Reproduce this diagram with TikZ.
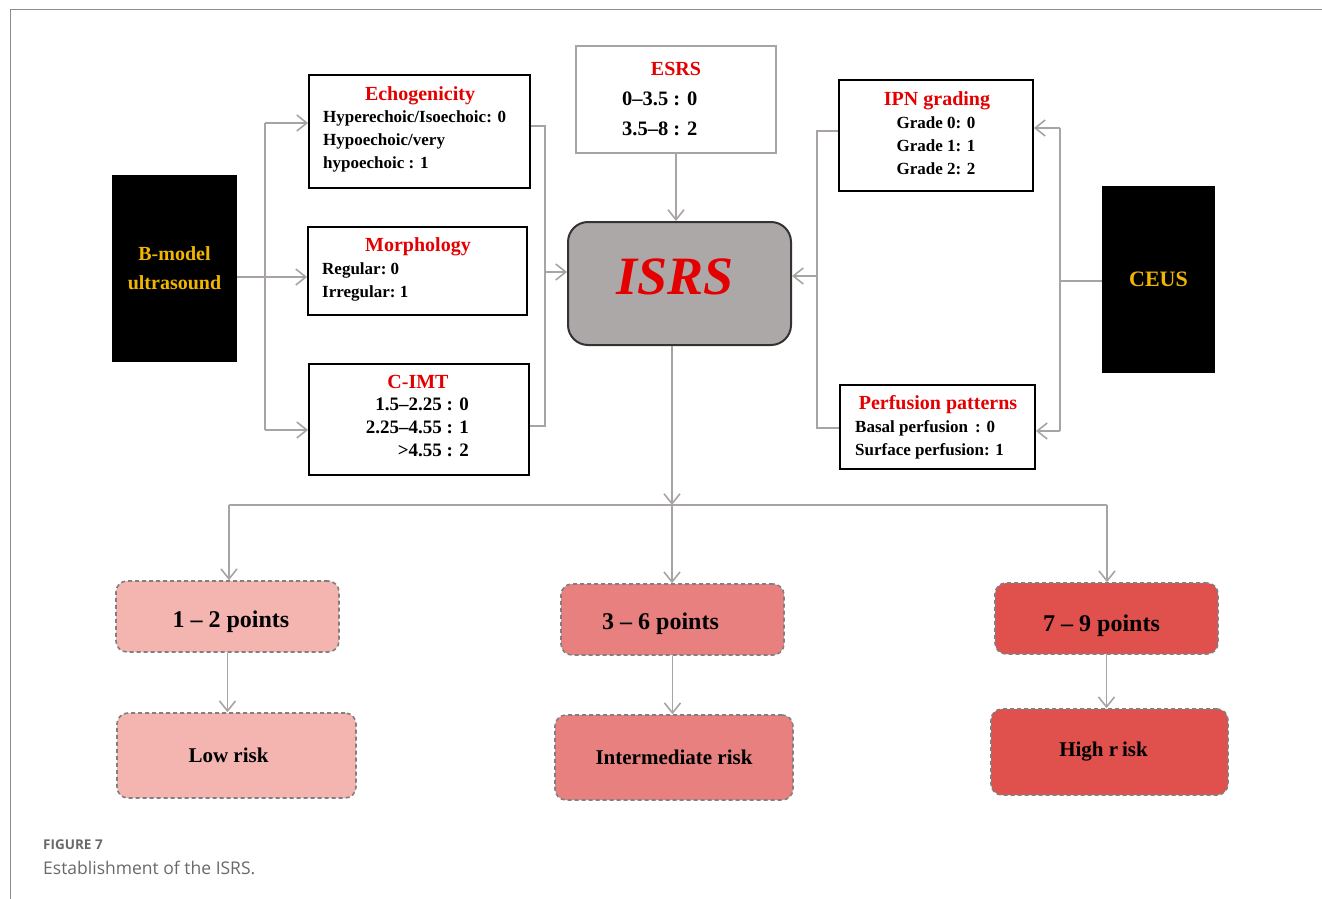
\documentclass[tikz,border=0pt]{standalone}
\usepackage{fontspec}
\setmainfont{Liberation Serif}
\newfontfamily\capfont{Open Sans}
\usetikzlibrary{arrows.meta,positioning}

\definecolor{titlered}{RGB}{228,0,0}
\definecolor{gold}{RGB}{240,182,0}
\definecolor{linkgray}{RGB}{168,164,164}
\definecolor{isrsgray}{RGB}{173,168,168}
\definecolor{lowpink}{RGB}{244,180,176}
\definecolor{midpink}{RGB}{232,128,128}
\definecolor{highred}{RGB}{224,80,76}
\definecolor{framegray}{RGB}{140,140,140}
\definecolor{capgray}{RGB}{105,105,105}

\newcommand{\fs}[1]{\fontsize{#1}{#1}\selectfont\bfseries}

\tikzset{
  box/.style={draw=black, line width=1.8pt, inner sep=0pt},
  darkbox/.style={fill=black, inner sep=0pt, text=gold, align=center},
  title/.style={text=titlered, font=\fs{20}, inner sep=0pt},
  body/.style={font=\fs{17}, inner sep=0pt},
  riskbox/.style={draw=gray, dash pattern=on 4pt off 3pt, line width=1.6pt,
    rounded corners=11pt, minimum width=223pt, inner sep=0pt},
  plain/.style={draw=linkgray, line width=1.6pt},
  link/.style={plain, -{Straight Barb[length=10pt,width=16pt]}}
}

\begin{document}
\begin{tikzpicture}[x=1pt,y=-1pt]
\useasboundingbox (0,0) rectangle (1322,899);
%frame
\draw[framegray, line width=1pt] (10,899) -- (10,10) -- (1322,10);

%B-mode side
\node[darkbox, minimum width=125pt, minimum height=187pt,
  font=\fontsize{20}{29}\selectfont\bfseries] (bmode) at (174.5,268.5) {B-model\\ultrasound};
\node[box, minimum width=221pt, minimum height=113pt] (echo) at (419.5,131.5) {};
\node[title, anchor=base] (echoT) at (420,100) {Echogenicity};
\node[body, anchor=base west] (echoA) at (323,122.5) {Hyperechoic/Isoechoic: 0};
\node[body, anchor=base west] (echoB) at (323,145.5) {Hypoechoic/very};
\node[body, anchor=base west] (echoC) at (323,168.5) {hypoechoic : 1};

\node[box, minimum width=219pt, minimum height=88pt] (morph) at (417.5,271) {};
\node[title, anchor=base] (morphT) at (418,251) {Morphology};
\node[body, anchor=base west] (morphA) at (322,274.5) {Regular:\ 0};
\node[body, anchor=base west] (morphB) at (322,297.5) {Irregular:\ 1};

\node[box, minimum width=220pt, minimum height=111pt] (cimt) at (419,419.5) {};
\node[title, anchor=base] (cimtT) at (418,388) {C-IMT};
\node[body, font=\fs{19}, anchor=base east] (cimtA) at (469,410.5) {1.5–2.25 : 0};
\node[body, font=\fs{19}, anchor=base east] (cimtB) at (469,433.5) {2.25–4.55 : 1};
\node[body, font=\fs{19}, anchor=base east] (cimtC) at (469,456.5) {>4.55 : 2};

%centre
\node[draw=linkgray, line width=1.5pt, minimum width=200pt, minimum height=107pt] (esrs) at (676,99.5) {};
\node[title, anchor=base] (esrsT) at (676,76) {ESRS};
\node[body, font=\fs{20.5}, anchor=base west] (esrsA) at (622,105) {0–3.5 : 0};
\node[body, font=\fs{20.5}, anchor=base west] (esrsB) at (622,135) {3.5–8 : 2};

\node[draw=black!80, fill=isrsgray, line width=2pt, rounded corners=20pt,
  minimum width=223pt, minimum height=123pt] (isrs) at (679.5,283.5) {};
\node[text=titlered, font=\fontsize{54}{54}\selectfont\bfseries\itshape] (isrsT) at (675,277) {ISRS};

%CEUS side
\node[box, minimum width=194pt, minimum height=111pt] (ipn) at (936,135.5) {};
\node[title, anchor=base] (ipnT) at (937,105) {IPN grading};
\node[body, anchor=base] (ipnA) at (936,128.5) {Grade 0: 0};
\node[body, anchor=base] (ipnB) at (936,151.5) {Grade 1: 1};
\node[body, anchor=base] (ipnC) at (936,174.5) {Grade 2: 2};

\node[box, minimum width=195pt, minimum height=84pt] (perf) at (937.5,427) {};
\node[title, anchor=base] (perfT) at (938,409) {Perfusion patterns};
\node[body, anchor=base west] (perfA) at (855,432.5) {Basal perfusion \,: 0};
\node[body, anchor=base west] (perfB) at (855,455.5) {Surface perfusion: 1};

\node[darkbox, minimum width=113pt, minimum height=187pt, font=\fs{22}] (ceus) at (1158.5,279.5) {CEUS};

%scores
\node[riskbox, fill=lowpink, minimum height=71pt, font=\fs{24}] (lowpts) at (227.5,616.5) {\hspace{7pt}\rule{0pt}{28pt}1 -- 2 points};
\node[riskbox, fill=midpink, minimum height=71pt, font=\fs{24}] (midpts) at (672.5,619.5) {\rule{0pt}{26pt}3 -- 6 points\hspace{24pt}\null};
\node[riskbox, fill=highred, minimum height=71pt, font=\fs{24}] (highpts) at (1106.5,618.5) {\rule{0pt}{32pt}7 -- 9 points\hspace{10pt}\null};
\node[riskbox, fill=lowpink, minimum width=239pt, minimum height=85pt, font=\fs{21}] (lowrisk) at (236.5,755.5) {Low risk\hspace{16pt}\null};
\node[riskbox, fill=midpink, minimum width=238pt, minimum height=85pt, font=\fs{21}] (midrisk) at (674,757.5) {Intermediate risk};
\node[riskbox, fill=highred, minimum width=237pt, minimum height=86pt, font=\fs{21}] (highrisk) at (1109.5,752) {High r\hspace{0.18em}isk\hspace{12pt}\null};

%caption
\node[anchor=west, inner sep=0pt, text=capgray, font=\capfont\bfseries\fontsize{13.5}{14}\selectfont] (capA) at (43,845) {FIGURE 7};
\node[anchor=west, inner sep=0pt, text=capgray, font=\capfont\fontsize{17.5}{18}\selectfont] (capB) at (43,868) {Establishment of the ISRS.};

%connectors left
\coordinate (bsplit) at (265,277);
\coordinate (bup) at (265,123);
\coordinate (bdown) at (265,430);
\draw[plain] (bup) -- (bdown);
\draw[link] (bmode.east |- bsplit) -- (morph.west |- bsplit);
\draw[link] (bup) -- (echo.west |- bup);
\draw[link] (bdown) -- (cimt.west |- bdown);
\coordinate (lup) at (545,126);
\coordinate (lmid) at (545,272);
\coordinate (ldown) at (545,426);
\draw[plain] (echo.east |- lup) -- (lup) -- (ldown) -- (cimt.east |- ldown);
\draw[link] (lmid) -- (isrs.west |- lmid);
\draw[link] (esrs.south) -- (esrs.south |- isrs.north);

%connectors right
\coordinate (rup) at (817,131);
\coordinate (rmid) at (817,276);
\coordinate (rdown) at (817,428);
\draw[plain] (ipn.west |- rup) -- (rup) -- (rdown) -- (perf.west |- rdown);
\draw[link] (rmid) -- (isrs.east |- rmid);
\coordinate (cup) at (1060,128);
\coordinate (cmid) at (1060,281);
\coordinate (cdown) at (1060,431);
\draw[plain] (ceus.west |- cmid) -- (cmid);
\draw[plain] (cup) -- (cdown);
\draw[link] (cup) -- (ipn.east |- cup);
\draw[link] (cdown) -- (perf.east |- cdown);

%connectors down
\coordinate (hub) at (672,505);
\coordinate (hubL) at (229,505);
\coordinate (hubR) at (1107,505);
\draw[link] (isrs.south -| hub) -- (hub);
\draw[plain] (hubL) -- (hubR);
\draw[link] (hubL) -- (lowpts.north -| hubL);
\draw[link] (hub) -- (midpts.north -| hub);
\draw[link] (hubR) -- (highpts.north -| hubR);
\draw[link] (lowpts.south) -- (lowpts.south |- lowrisk.north);
\draw[link] (midpts.south) -- (midpts.south |- midrisk.north);
\draw[link] (highpts.south) -- (highpts.south |- highrisk.north);
\end{tikzpicture}
\end{document}
